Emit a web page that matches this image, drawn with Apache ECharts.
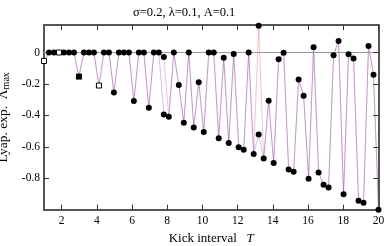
<!DOCTYPE html>
<html><head><meta charset="utf-8">
<script src="https://cdn.jsdelivr.net/npm/echarts@6/dist/echarts.min.js"></script>
<style>html,body{margin:0;padding:0;background:#fff}#c{width:384px;height:246px}</style>
</head><body><div id="c"></div>
<script>
// Kick interval T values
const T = [1.000,1.284,1.567,1.851,2.134,2.418,2.701,2.985,3.269,3.552,3.836,4.119,4.403,4.687,4.970,5.254,5.537,5.821,6.104,6.388,6.672,6.955,7.239,7.522,7.806,8.090,8.373,8.657,8.940,9.224,9.507,9.791,10.075,10.358,10.642,10.925,11.209,11.493,11.776,12.060,12.343,12.627,12.910,13.194,13.478,13.761,14.045,14.328,14.612,14.896,15.179,15.463,15.746,16.030,16.313,16.597,16.881,17.164,17.448,17.731,18.015,18.299,18.582,18.866,19.149,19.433,19.716,20.000];
// Blue series (max Lyapunov exponent)
const blueVals = [-0.054,0,0,0,0,0,0,-0.153,0,0,0,-0.21,0,0,-0.254,0,0,0,-0.309,0,0,-0.352,0,0,-0.394,-0.409,0,-0.207,-0.447,0,-0.477,-0.190,-0.505,0,0,-0.546,-0.033,-0.575,-0.009,-0.603,-0.618,0,-0.646,-0.522,-0.675,-0.307,-0.703,-0.043,-0.002,-0.745,-0.758,-0.171,-0.275,-0.803,0.033,-0.763,-0.842,-0.859,-0.017,0.074,-0.901,-0.011,-0.038,-0.943,-0.955,0.042,-0.141,-1.0];
// Red series (differs from blue at two points)
const redVals = [-0.054,0,0,0,0,0,0,-0.153,0,0,0,-0.21,0,0,-0.254,0,0,0,-0.309,0,0,-0.352,0,0,-0.028,-0.409,0,-0.207,-0.447,0,-0.477,-0.190,-0.505,0,0,-0.546,-0.033,-0.575,-0.009,-0.603,-0.618,0,-0.646,0.17,-0.675,-0.307,-0.703,-0.043,-0.002,-0.745,-0.758,-0.171,-0.275,-0.803,0.033,-0.763,-0.842,-0.859,-0.017,0.074,-0.901,-0.011,-0.038,-0.943,-0.955,0.042,-0.141,-1.0];
// marker shapes by index
const openSquares = [0,3,11];
const filledSquares = [7];
const xTicks = [2,4,6,8,10,12,14,16,18,20];
const yTicks = [-0.8,-0.6,-0.4,-0.2,0];
const xMin = 1, xMax = 20, yMin = -1, yMax = 0.175;

const serif = 'Liberation Serif';
const blueData = T.map((t,i)=>[t,blueVals[i]]);
const redData = T.map((t,i)=>[t,redVals[i]]);
function mk(t,v,i){
  if(openSquares.includes(i)) return {value:[t,v],symbol:'rect',symbolSize:5,itemStyle:{color:'#fff',borderColor:'#000',borderWidth:1,opacity:1}};
  if(filledSquares.includes(i)) return {value:[t,v],symbol:'rect',symbolSize:6,itemStyle:{color:'#000',opacity:1}};
  return {value:[t,v]};
}
const markers = [];
T.forEach((t,i)=>{
  markers.push(mk(t,blueVals[i],i));
  if(redVals[i]!==blueVals[i]) markers.push(mk(t,redVals[i],i));
});
// top/right frame and inward ticks, built from axis extents and tick arrays
const tickLenX = (xMax-xMin)*5/334.5, tickLenY = (yMax-yMin)*5/184.7;
const frameStyle = {color:'#555',width:2,type:'solid'};
const tickStyle = {color:'#333',width:1,type:'solid'};
const markLines = [
  [{coord:[xMin,0],lineStyle:{color:'#999',width:1,type:'solid'}},{coord:[xMax,0]}],
  [{coord:[xMin,yMax],lineStyle:frameStyle},{coord:[xMax,yMax]}],
  [{coord:[xMax,yMin],lineStyle:frameStyle},{coord:[xMax,yMax]}]
].concat(xTicks.map(t=>[{coord:[t,yMax],lineStyle:tickStyle},{coord:[t,yMax-tickLenY]}]))
 .concat(yTicks.map(v=>[{coord:[xMax,v],lineStyle:tickStyle},{coord:[xMax-tickLenX,v]}]));

const chart = echarts.init(document.getElementById('c'),null,{renderer:'canvas'});
chart.setOption({
  animation:false,
  title:{text:'σ=0.2, λ=0.1, A=0.1',left:128,top:1,textStyle:{fontFamily:serif,fontSize:12.5,fontWeight:'normal',color:'#000'}},
  grid:{left:44,right:5.5,top:25,bottom:36.3,outerBoundsMode:'none'},
  xAxis:[{type:'value',min:xMin,max:xMax,position:'bottom',
    axisLine:{show:true,onZero:false,lineStyle:{color:'#555',width:2}},splitLine:{show:false},
    axisTick:{show:true,inside:true,length:5,customValues:xTicks,lineStyle:{color:'#333',width:1}},
    axisLabel:{customValues:xTicks,margin:5,fontFamily:serif,fontSize:11.5,color:'#000'},
    name:'{a|Kick interval   }{b|T}',nameLocation:'middle',nameGap:18,
    nameTextStyle:{rich:{a:{fontFamily:serif,fontSize:13,color:'#000'},b:{fontFamily:serif,fontSize:13,fontStyle:'italic',color:'#000'}}}},
   {type:'value',min:xMin,max:xMax,position:'top',
    axisLine:{show:true,onZero:false,lineStyle:{color:'#545454',width:2}},splitLine:{show:false},
    axisTick:{show:true,inside:true,length:5,customValues:xTicks,lineStyle:{color:'#333',width:1}},
    axisLabel:{show:true,customValues:xTicks,formatter:()=>''}}],
  yAxis:[{type:'value',min:yMin,max:yMax,position:'left',
    axisLine:{show:true,onZero:false,lineStyle:{color:'#555',width:2}},splitLine:{show:false},
    axisTick:{show:true,inside:true,length:5,customValues:yTicks,lineStyle:{color:'#333',width:1}},
    axisLabel:{customValues:yTicks,margin:4,fontFamily:serif,fontSize:11.5,color:'#000',
      formatter:v=>Math.abs(v)<1e-9?'0':v.toFixed(1)},
    name:'{a|Lyap. exp.  Λ}{s|max}',nameLocation:'middle',nameGap:19,nameRotate:90,
    nameTextStyle:{rich:{a:{fontFamily:serif,fontSize:13.5,color:'#000'},s:{fontFamily:serif,fontSize:10,color:'#000',padding:[5,0,0,0]}}}},
   {type:'value',min:yMin,max:yMax,position:'right',
    axisLine:{show:true,onZero:false,lineStyle:{color:'#545454',width:2}},splitLine:{show:false},
    axisTick:{show:true,inside:true,length:5,customValues:yTicks,lineStyle:{color:'#333',width:1}},
    axisLabel:{show:true,customValues:yTicks,formatter:()=>''}}],
  series:[
    {type:'line',data:redData,showSymbol:false,symbol:'none',lineStyle:{color:'rgba(255,50,50,0.3)',width:1},z:3,
     markLine:{silent:true,clip:false,symbol:['none','none'],label:{show:false},data:markLines}},
    {type:'line',data:blueData,showSymbol:false,symbol:'none',lineStyle:{color:'rgba(70,50,255,0.3)',width:1},z:4},
    {type:'scatter',data:markers,symbol:'circle',symbolSize:6,itemStyle:{color:'#000',opacity:1},z:10}
  ]
});
</script></body></html>
